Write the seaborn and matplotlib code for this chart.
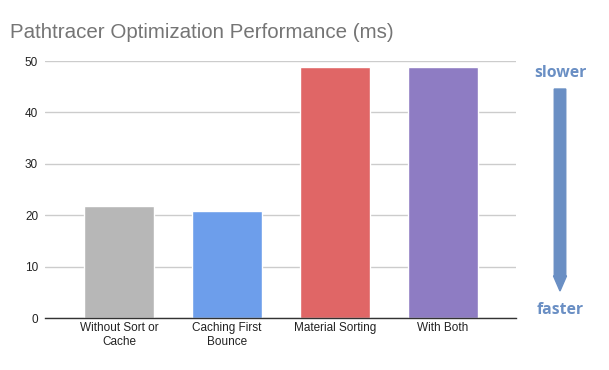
import pandas as pd
import matplotlib.pyplot as plt
import seaborn as sns

categorias = ['Without Sort or\nCache', 'Caching First\nBounce', 'Material Sorting', 'With Both']
tempos_ms = [21.7, 20.9, 48.9, 48.9]
cores = ['#b7b7b7', '#6d9eeb', '#e06666', '#8e7cc3']
y_ticks = [0, 10, 20, 30, 40, 50]

df = pd.DataFrame({'caso': categorias, 'tempo': tempos_ms})

sns.set_style('white')
plt.rcParams['font.family'] = ['Liberation Sans', 'DejaVu Sans']

fig = plt.figure(figsize=(6.09, 3.70), dpi=100)
ax = fig.add_axes([0.074, 0.1405, 0.773, 0.6945])

sns.barplot(data=df, x='caso', y='tempo', hue='caso', palette=cores,
            width=0.65, saturation=1, legend=False, ax=ax)

ax.set_xlim(-0.685, 3.676)
ax.set_ylim(0, 50)
ax.set_yticks(y_ticks)
ax.yaxis.grid(True, color='#cccccc', linewidth=1)
ax.set_axisbelow(True)
ax.tick_params(axis='both', length=0, labelsize=8.5, colors='#222222', pad=5)
ax.tick_params(axis='x', pad=3)
ax.set_xlabel('')
ax.set_ylabel('')
for lado in ['top', 'right', 'left']:
    ax.spines[lado].set_visible(False)
ax.spines['bottom'].set_color('#333333')
ax.spines['bottom'].set_linewidth(1)

fig.text(10 / 609, 1 - 33 / 370, 'Pathtracer Optimization Performance (ms)',
         fontsize=14.8, color='#757575', va='center', ha='left')

# seta de slower -> faster
azul = '#6a8fc4'
fig.text(560 / 609, 1 - 73 / 370, 'slower', color=azul, fontsize=11.3,
         fontweight='bold', family=['Open Sans', 'DejaVu Sans'], ha='center', va='center')
fig.text(560 / 609, 1 - 310 / 370, 'faster', color=azul, fontsize=11.3,
         fontweight='bold', family=['Open Sans', 'DejaVu Sans'], ha='center', va='center')
fig.patches.append(plt.matplotlib.patches.FancyArrow(
    560 / 609, 1 - 89 / 370, 0, -(291 - 89) / 370, width=7 / 370,
    head_width=13 / 609, head_length=15 / 370, length_includes_head=True,
    color=azul, transform=fig.transFigure, figure=fig))

fig.savefig('out.png', dpi=100)
